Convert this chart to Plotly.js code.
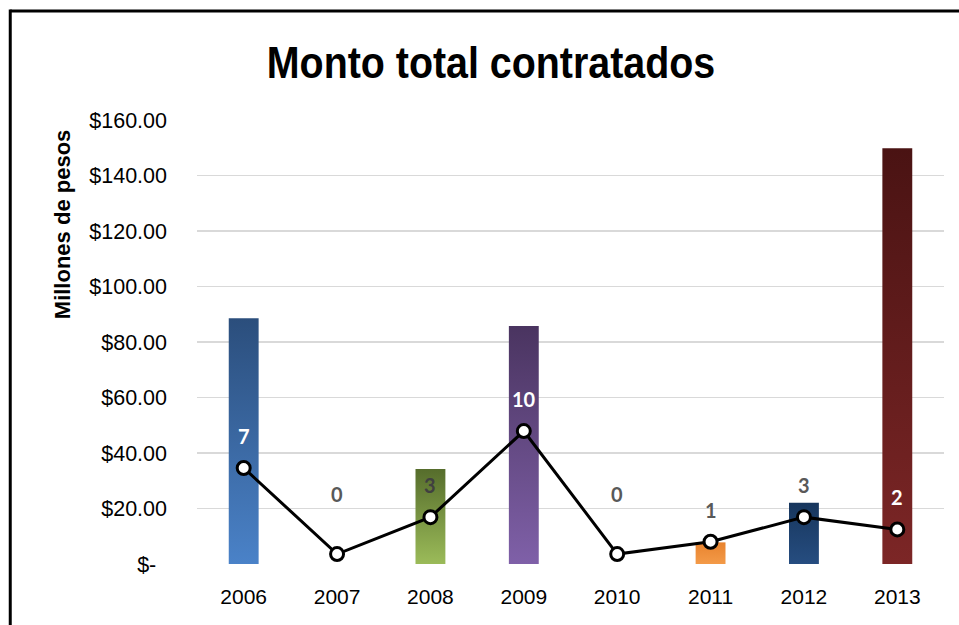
<!DOCTYPE html>
<html><head><meta charset="utf-8">
<script src="https://cdn.plot.ly/plotly-3.0.1.min.js"></script>
<style>html,body{margin:0;padding:0;background:#fff}#chart{width:959px;height:625px}</style>
</head><body><div id="chart"></div>
<script>
var years = ['2006','2007','2008','2009','2010','2011','2012','2013'];
var montos = [88.6, 0, 34.2, 85.8, 0, 7.8, 22.1, 149.8];
var contratos = [7, 0, 3, 10, 0, 1, 3, 2];
var labelColors = ['#ffffff','#595959','#404040','#ffffff','#595959','#595959','#595959','#ffffff'];
var gradTop = ['#2b4e7c','#2b4e7c','#566d2c','#4a3460','#2b4e7c','#e8832e','#17365d','#4a1313'];
var gradBottom = ['#4a82c8','#4a82c8','#9bbb59','#7f60a8','#4a82c8','#f39a48','#264d80','#7c2626'];
var tickVals = [0,20,40,60,80,100,120,140,160];
var tickText = ['$-\u2002','$20.00','$40.00','$60.00','$80.00','$100.00','$120.00','$140.00','$160.00'];

var sans = '"Liberation Sans", Arial, sans-serif';
var lblFont = 'Lato, "Open Sans", sans-serif';

var data = [
  {type:'bar', x:years, y:montos, width:0.32,
   marker:{color:gradBottom, line:{width:0}}, hoverinfo:'skip', showlegend:false},
  {type:'scatter', mode:'lines+markers', x:years, y:contratos, yaxis:'y2',
   line:{color:'#000', width:3},
   marker:{size:13, color:'#fff', line:{color:'#000', width:3}},
   cliponaxis:false, showlegend:false, hoverinfo:'skip'}
];

// category axis: annotations placed by category index
var annotations = contratos.map(function(c, i){
  return {x:i, y:c, xref:'x', yref:'y2', text:'<b>'+c+'</b>', showarrow:false,
          xanchor:'center', yanchor:'middle', yshift:(c === 0 ? 60 : 32),
          font:{family:lblFont, size:20, color:labelColors[i]}};
});
annotations.push({text:'<b>Millones de pesos</b>', xref:'paper', yref:'paper', x:-0.179, y:0.766,
                xanchor:'center', yanchor:'middle', textangle:-90, showarrow:false,
                font:{family:sans, size:22, color:'#000'}});

var layout = {
  width:959, height:625,
  margin:{l:197, r:15, t:120, b:61},
  paper_bgcolor:'#fff', plot_bgcolor:'#fff',
  title:{text:'<b>Monto total contratados</b>', font:{family:sans, size:44, color:'#000'},
         x:0.512, xanchor:'center', y:0.9, yanchor:'middle'},
  xaxis:{type:'category', tickfont:{family:sans, size:21, color:'#000'},
         showgrid:false, zeroline:false, showline:false, ticks:'', fixedrange:true,
         ticklabelstandoff:18},
  yaxis:{range:[0,160], tickvals:tickVals, ticktext:tickText, tickmode:'array',
         tickfont:{family:sans, size:21.5, color:'#000'},
         gridcolor:'#d9d9d9', gridwidth:1.5, zeroline:false, showline:false, ticks:'', ticklen:0,
         ticklabelstandoff:29, fixedrange:true},
  yaxis2:{overlaying:'y', side:'right', range:[-0.81,35.3], visible:false, fixedrange:true},
  annotations:annotations,
  shapes:[
    {type:'line', xref:'paper', yref:'paper', x0:-0.25, x1:-0.25, y0:1.249, y1:-0.2, line:{color:'#000', width:3}},
    {type:'line', xref:'paper', yref:'paper', x0:-0.25, x1:1.03, y0:1.2455, y1:1.2455, line:{color:'#000', width:3}}
  ]
};

Plotly.newPlot('chart', data, layout, {displayModeBar:false, staticPlot:true}).then(function(gd){
  var svg = gd.querySelector('svg.main-svg');
  var ns = 'http://www.w3.org/2000/svg';
  var defs = svg.querySelector('defs') || svg.insertBefore(document.createElementNS(ns,'defs'), svg.firstChild);
  gradTop.forEach(function(c, i){
    var g = document.createElementNS(ns,'linearGradient');
    g.setAttribute('id','bargrad'+i); g.setAttribute('x1','0'); g.setAttribute('y1','0');
    g.setAttribute('x2','0'); g.setAttribute('y2','1');
    var s1 = document.createElementNS(ns,'stop'); s1.setAttribute('offset','0'); s1.setAttribute('stop-color', c);
    var s2 = document.createElementNS(ns,'stop'); s2.setAttribute('offset','1'); s2.setAttribute('stop-color', gradBottom[i]);
    g.appendChild(s1); g.appendChild(s2); defs.appendChild(g);
  });
  gd.querySelectorAll('.barlayer .point path').forEach(function(p, i){ p.style.fill = 'url(#bargrad'+i+')'; });
  // condense title like Arial Narrow
  var t = gd.querySelector('.gtitle');
  if (t) {
    var cx = parseFloat(t.getAttribute('x'));
    t.setAttribute('transform', 'translate(' + cx + ',0) scale(0.895,1) translate(' + (-cx) + ',0)');
  }
});
</script></body></html>
